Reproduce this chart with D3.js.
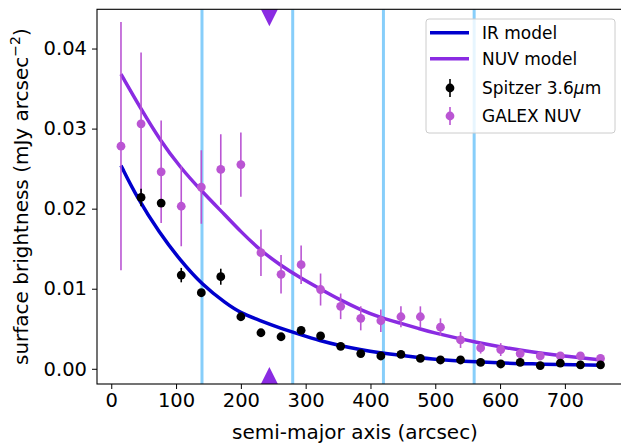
<!DOCTYPE html>
<html>
<head>
<meta charset="utf-8">
<script src="https://cdn.jsdelivr.net/npm/d3@7"></script>
<style>
  html, body { margin: 0; padding: 0; background: #fff; }
  svg { display: block; font-family: "DejaVu Sans", sans-serif; }
</style>
</head>
<body>
<svg id="chart" width="621" height="443"></svg>
<script>
// ---- data ----
const spitzerX = [46,77,108,139,169,200,231,262,293,323,354,385,416,447,477,508,539,570,601,631,662,693,724,755];
const spitzerY = [0.0214,0.0207,0.0117,0.0095,0.0115,0.0065,0.0045,0.0040,0.0048,0.0041,0.0028,0.0019,0.0016,0.0018,0.0013,0.0011,0.0011,0.0008,0.0006,0.0008,0.0004,0.0007,0.0005,0.0005];
const spitzerErr = [0.0011,0.0005,0.0009,0.0004,0.0010,0.0004,0.0003,0.0003,0.0003,0.0003,0.0003,0.0002,0.0002,0.0002,0.0002,0.0002,0.0002,0.0002,0.0002,0.0002,0.0002,0.0002,0.0002,0.0002];

const galexX = [15,46,77,108,139,169,200,231,262,293,323,354,385,416,447,477,508,539,570,601,631,662,693,724,755];
const galexY = [0.0278,0.0306,0.0246,0.0203,0.0227,0.0249,0.0255,0.0145,0.0118,0.0130,0.0099,0.0078,0.0063,0.0060,0.0065,0.0065,0.0052,0.0036,0.0026,0.0024,0.0019,0.0016,0.0016,0.0016,0.0013];
const galexErr = [0.0155,0.0089,0.0064,0.0050,0.0046,0.0044,0.0040,0.0029,0.0024,0.0024,0.0020,0.0016,0.0015,0.0014,0.0013,0.0013,0.0011,0.0010,0.0007,0.0008,0.0006,0.0005,0.0005,0.0005,0.0004];

const irModelX = [15,39,75,106,140,178,199,230,260,291,322,353,384,415,446,492,561,646,755];
const irModelY = [0.0254,0.0215,0.0169,0.0136,0.0105,0.0081,0.0070,0.0060,0.0051,0.0043,0.0035,0.0029,0.0024,0.0020,0.0017,0.0012,0.00085,0.0006,0.00044];

const nuvModelX = [15,47,75,106,137,178,199,230,260,291,322,353,384,415,446,476,492,561,646,698,755];
const nuvModelY = [0.0368,0.0323,0.0286,0.0252,0.0224,0.0190,0.0172,0.0148,0.0130,0.0114,0.0100,0.0086,0.0074,0.0064,0.0057,0.0050,0.0046,0.0033,0.0021,0.0016,0.0011];

const annulusX = [140,280,420,560];
const markerX = [244];

const xTicks = [0,100,200,300,400,500,600,700];
const yTicks = [0.00,0.01,0.02,0.03,0.04];

const legendLabels = ["IR model","NUV model","Spitzer 3.6","GALEX NUV"];

// ---- layout ----
const svg = d3.select("#chart");
const L = 97, R = 624.5, T = 9.3, B = 384;
const x = d3.scaleLinear().domain([-22, 792]).range([L, R]);
const y = d3.scaleLinear().domain([-0.0019, 0.0449]).range([B, T]);

const colIR = "#0000cd", colNUV = "#8a2be2", colGal = "#ba55d3", colAnn = "#87cefa";

svg.append("defs").append("clipPath").attr("id","clip")
  .append("rect").attr("x",L).attr("y",T).attr("width",R-L).attr("height",B-T);

const plot = svg.append("g").attr("clip-path","url(#clip)");

// vertical annulus lines
plot.selectAll("line.ann").data(annulusX).enter().append("line")
  .attr("x1", d => x(d)).attr("x2", d => x(d))
  .attr("y1", T).attr("y2", B)
  .attr("stroke", colAnn).attr("stroke-width", 3);

// models
const line = d3.line().curve(d3.curveBasis).x(d => x(d[0])).y(d => y(d[1]));
plot.append("path").datum(d3.zip(irModelX, irModelY))
  .attr("d", line).attr("fill","none").attr("stroke",colIR).attr("stroke-width",3.5);
plot.append("path").datum(d3.zip(nuvModelX, nuvModelY))
  .attr("d", line).attr("fill","none").attr("stroke",colNUV).attr("stroke-width",3.5);

// errorbars + points
function drawSeries(xs, ys, es, color) {
  const data = d3.zip(xs, ys, es);
  plot.selectAll(null).data(data).enter().append("line")
    .attr("x1", d => x(d[0])).attr("x2", d => x(d[0]))
    .attr("y1", d => y(d[1]-d[2])).attr("y2", d => y(d[1]+d[2]))
    .attr("stroke", color).attr("stroke-width", 1.6);
  plot.selectAll(null).data(data).enter().append("circle")
    .attr("cx", d => x(d[0])).attr("cy", d => y(d[1])).attr("r", 4.4)
    .attr("fill", color);
}
drawSeries(galexX, galexY, galexErr, colGal);
drawSeries(spitzerX, spitzerY, spitzerErr, "#000");

// triangles at top and bottom
markerX.forEach(m => {
  const cx = x(m), hw = 8.5;
  svg.append("path").attr("d", `M${cx-hw},${T} L${cx+hw},${T} L${cx},${T+17} Z`).attr("fill", colNUV);
  svg.append("path").attr("d", `M${cx-hw},${B} L${cx+hw},${B} L${cx},${B-17} Z`).attr("fill", colNUV);
});

// axes
const xAxis = svg.append("g").attr("transform",`translate(0,${B})`)
  .call(d3.axisBottom(x).tickValues(xTicks).tickSize(5).tickPadding(4).tickFormat(d3.format("d")));
const yAxis = svg.append("g").attr("transform",`translate(${L},0)`)
  .call(d3.axisLeft(y).tickValues(yTicks).tickSize(5).tickPadding(5).tickFormat(d3.format(".2f")));
[xAxis, yAxis].forEach(g => {
  g.select(".domain").remove();
  g.selectAll(".tick line").attr("stroke","#000").attr("stroke-width",1);
  g.selectAll(".tick text").attr("fill","#000").style("font-size","19.5px").style("font-family","DejaVu Sans, sans-serif");
});

// frame
svg.append("rect").attr("x",L).attr("y",T).attr("width",R-L).attr("height",B-T)
  .attr("fill","none").attr("stroke","#000").attr("stroke-width",1.1);

// axis labels
svg.append("text").attr("x", 355).attr("y", 439).attr("text-anchor","middle")
  .style("font-size","20px").text("semi-major axis (arcsec)");
const yl = svg.append("text").attr("transform",`translate(28,${(T+B)/2}) rotate(-90)`)
  .attr("text-anchor","middle").style("font-size","20px");
yl.append("tspan").text("surface brightness (mJy arcsec");
yl.append("tspan").attr("dy",-8).style("font-size","14px").text("\u22122");
yl.append("tspan").attr("dy",8).text(")");

// legend
const lg = svg.append("g");
lg.append("rect").attr("x",426).attr("y",19).attr("width",189).attr("height",114).attr("rx",3)
  .attr("fill","#fff").attr("fill-opacity",0.8).attr("stroke","#ccc").attr("stroke-width",1);
const rowsY = [32.7, 58.7, 88, 116];
lg.append("line").attr("x1",430).attr("x2",469).attr("y1",rowsY[0]).attr("y2",rowsY[0]).attr("stroke",colIR).attr("stroke-width",3.5);
lg.append("line").attr("x1",430).attr("x2",469).attr("y1",rowsY[1]).attr("y2",rowsY[1]).attr("stroke",colNUV).attr("stroke-width",3.5);
[[rowsY[2],"#000"],[rowsY[3],colGal]].forEach(([yy,c]) => {
  lg.append("line").attr("x1",450).attr("x2",450).attr("y1",yy-9).attr("y2",yy+9).attr("stroke",c).attr("stroke-width",1.6);
  lg.append("circle").attr("cx",450).attr("cy",yy).attr("r",4.4).attr("fill",c);
});
legendLabels.forEach((t,i) => {
  const tx = lg.append("text").attr("x",482).attr("y",rowsY[i]+6).style("font-size","17px").text(t);
  if (i === 2) {
    tx.append("tspan").style("font-style","italic").text("\u03bc");
    tx.append("tspan").text("m");
  }
});
</script>
</body>
</html>
